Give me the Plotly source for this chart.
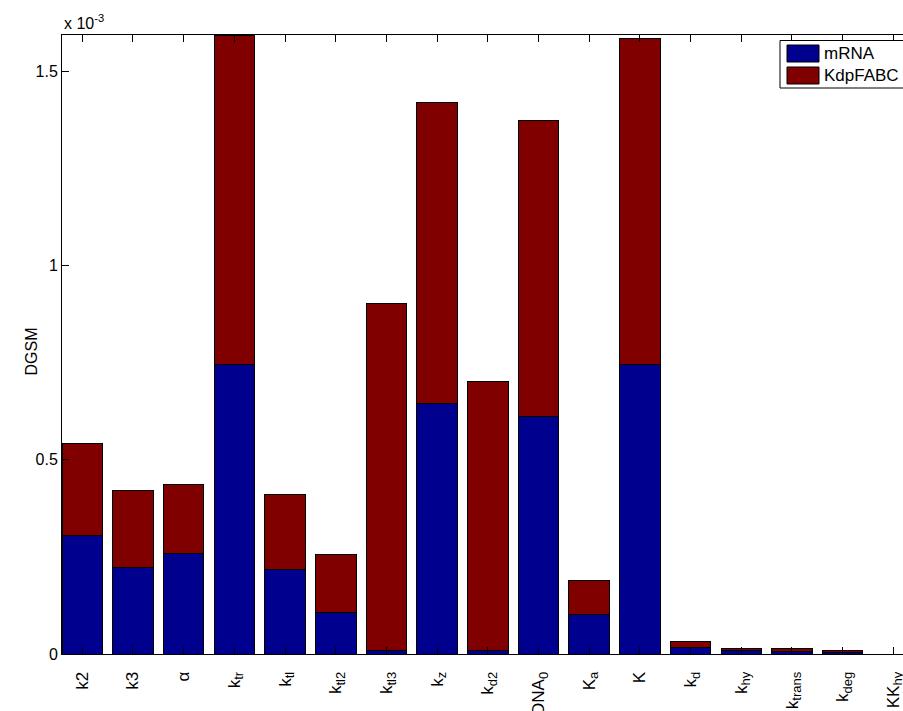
import plotly.graph_objects as go

# Parameter names and their subscripts (drawn as rich-text tick labels)
param_base = ["k2", "k3", "α", "k", "k", "k", "k", "k", "k", "DNA",
              "K", "K", "k", "k", "k", "k", "KK"]
param_sub = ["", "", "", "tr", "tl", "tl2", "tl3", "z", "d2", "0",
             "a", "", "d", "hy", "trans", "deg", "hy"]

# DGSM contributions, in units of 1e-3
mrna = [0.305, 0.223, 0.260, 0.746, 0.218, 0.106, 0.008, 0.646, 0.008, 0.612,
        0.103, 0.745, 0.018, 0.0095, 0.007, 0.004, 0.0]
kdpfabc = [0.237, 0.197, 0.177, 0.848, 0.194, 0.149, 0.894, 0.774, 0.694, 0.763,
           0.085, 0.840, 0.0146, 0.0059, 0.0067, 0.0063, 0.0]

series_names = ["mRNA", "KdpFABC"]
series_colors = ["#00008F", "#800000"]


def label(base, sub):
    if not sub:
        return base
    return f'{base}<sub><span style="font-size:13px">{sub}</span></sub>'


ticktext = [label(b, s) for b, s in zip(param_base, param_sub)]
xpos = list(range(1, len(param_base) + 1))
ymax = max(a + b for a, b in zip(mrna, kdpfabc))

W, H = 903, 711
L, R, T, B = 62, 0, 35, 57

fig = go.Figure()
for name, vals, col in zip(series_names, [mrna, kdpfabc], series_colors):
    fig.add_trace(go.Bar(
        x=xpos, y=vals, name=name, width=0.8,
        marker=dict(color=col, line=dict(color="black", width=1)),
        showlegend=False,
    ))

font = dict(family="Liberation Sans, Arial, Helvetica, sans-serif", size=16, color="black")

fig.update_layout(
    width=W, height=H,
    margin=dict(l=L, r=R, t=T, b=B, pad=0, autoexpand=False),
    barmode="stack",
    plot_bgcolor="white", paper_bgcolor="white",
    font=font,
    xaxis=dict(
        range=[0.6, 17.19], tickmode="array", tickvals=xpos, ticktext=ticktext,
        tickangle=-90, ticks="inside", ticklen=7, tickcolor="black", tickwidth=1,
        showline=True, linecolor="black", linewidth=1, mirror="ticks",
        showgrid=False, zeroline=False, ticklabelstandoff=10,
        ticklabeloverflow="allow", tickfont=dict(size=17), automargin=False,
    ),
    yaxis=dict(
        range=[0, ymax], tickmode="array", tickvals=[0, 0.5, 1, 1.5],
        ticktext=["0", "0.5", "1", "1.5"],
        ticks="inside", ticklen=7, tickcolor="black", tickwidth=1,
        showline=True, linecolor="black", linewidth=1, mirror=False,
        showgrid=False, zeroline=False, tickfont=dict(size=16), automargin=False,
    ),
)

# Axis title and exponent label
pw = W - L - R
ph = H - T - B


def px(x):
    return (x - L) / pw


def py(y):
    return (H - B - y) / ph


fig.add_annotation(text="DGSM", x=px(20), y=py(352), xref="paper", yref="paper",
                   textangle=-90, showarrow=False, font=dict(size=16))
fig.add_annotation(text="x 10<sup>-3</sup>", x=0, y=1, xref="paper", yref="paper",
                   xanchor="left", yanchor="bottom", yshift=1, showarrow=False,
                   font=dict(size=16))

# Legend box with colour patches
fig.add_shape(type="rect", xref="paper", yref="paper",
              x0=px(780), x1=px(915), y0=py(88), y1=py(40.5),
              line=dict(color="black", width=1), fillcolor="white")
patch_rows = [(45, 62), (67, 84)]
for (y0, y1), name, col in zip(patch_rows, series_names, series_colors):
    fig.add_shape(type="rect", xref="paper", yref="paper",
                  x0=px(787), x1=px(819), y0=py(y1), y1=py(y0),
                  line=dict(color="black", width=1), fillcolor=col)
    fig.add_annotation(text=name, x=px(822), y=py((y0 + y1) / 2),
                       xref="paper", yref="paper", xanchor="left", yanchor="middle",
                       showarrow=False, font=dict(size=17))

fig.write_html("out.html")
